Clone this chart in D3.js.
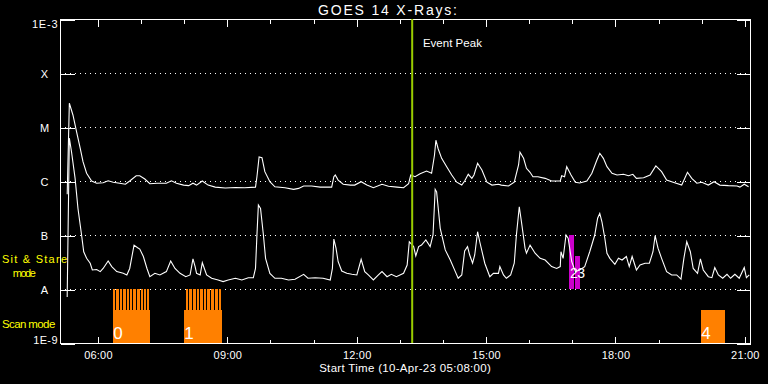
<!DOCTYPE html>
<html><head><meta charset="utf-8">
<script src="https://cdn.jsdelivr.net/npm/d3@7"></script>
<style>html,body{margin:0;padding:0;background:#000;}svg{display:block}</style>
</head><body><svg id="c" width="768" height="384"></svg>
<script>
// ---------------- DATA ----------------
const DAY = "2023-04-10";
const startTime = "05:08", endTime = "21:08";
const chartTitle = "GOES 14 X-Rays:";
const xTitle = "Start Time (10-Apr-23 05:08:00)";
const yTickValues = [1e-9, 1e-8, 1e-7, 1e-6, 1e-5, 1e-4, 1e-3];
const yTickLabels = ["1E-9", "A", "B", "C", "M", "X", "1E-3"];

// GOES long channel (1-8 A), W/m^2
const longTimes = ["05:18","05:21","05:26","05:31","05:36","05:40","05:45","05:52","05:59","06:08",
"06:15","06:22","06:31","06:39","06:45","06:54","06:59","07:06","07:13","07:23",
"07:36","07:43","07:50","08:00","08:07","08:13","08:18","08:26","08:34","08:44",
"08:58","09:12","09:25","09:40","09:42","09:45","09:49","09:53","10:00","10:07",
"10:21","10:33","10:40","10:47","10:58","11:10","11:26","11:29","11:31","11:35",
"11:42","11:52","11:58","12:07","12:15","12:24","12:36","12:45","12:57","13:06",
"13:13","13:16","13:22","13:29","13:38","13:45","13:49","13:51","13:54","13:59",
"14:06","14:13","14:20","14:27","14:31","14:36","14:41","14:44","14:49","14:55",
"15:02","15:09","15:18","15:22","15:32","15:40","15:46","15:48","15:53","15:57",
"16:02","16:06","16:13","16:23","16:32","16:44","16:46","16:50","16:53","16:59",
"17:05","17:11","17:21","17:28","17:35","17:39","17:44","17:49","17:56","18:03",
"18:12","18:19","18:25","18:30","18:40","18:49","18:57","19:05","19:12","19:21",
"19:33","19:41","19:47","19:54","20:01","20:10","20:18","20:26","20:38","20:50",
"20:54","21:00","21:06"];
const longFlux = [5.7e-7,2.75e-5,1.67e-5,8.2e-6,4.1e-6,2.28e-6,1.39e-6,1.0e-6,0.91e-6,0.93e-6,
1.01e-6,0.95e-6,0.91e-6,0.87e-6,1.0e-6,1.25e-6,1.25e-6,1.09e-6,0.89e-6,0.91e-6,
0.91e-6,1.01e-6,0.91e-6,0.84e-6,0.82e-6,0.91e-6,0.84e-6,1.0e-6,0.84e-6,0.77e-6,
0.74e-6,0.76e-6,0.75e-6,0.77e-6,1.2e-6,2.8e-6,2.7e-6,1.49e-6,0.97e-6,0.78e-6,
0.75e-6,0.70e-6,0.73e-6,0.81e-6,0.81e-6,0.77e-6,0.77e-6,1.2e-6,1.29e-6,1.04e-6,
0.87e-6,0.84e-6,0.84e-6,0.97e-6,0.84e-6,0.75e-6,0.87e-6,0.80e-6,0.77e-6,0.75e-6,
0.89e-6,1.29e-6,1.2e-6,1.36e-6,1.53e-6,1.39e-6,3.0e-6,5.7e-6,4.0e-6,2.63e-6,
1.84e-6,1.29e-6,0.95e-6,0.84e-6,1.0e-6,1.33e-6,1.12e-6,1.29e-6,2.13e-6,1.6e-6,
0.95e-6,0.84e-6,0.87e-6,0.84e-6,0.81e-6,0.95e-6,1.98e-6,3.4e-6,2.63e-6,1.72e-6,
1.45e-6,1.2e-6,1.2e-6,1.12e-6,1.0e-6,1.0e-6,1.25e-6,1.2e-6,1.84e-6,1.29e-6,
0.95e-6,0.92e-6,1.0e-6,1.39e-6,2.45e-6,3.26e-6,2.63e-6,1.84e-6,1.39e-6,1.29e-6,
1.33e-6,1.25e-6,1.33e-6,1.12e-6,1.15e-6,1.29e-6,1.9e-6,1.49e-6,1.04e-6,0.95e-6,
0.84e-6,1.45e-6,1.12e-6,0.91e-6,0.95e-6,0.84e-6,0.97e-6,0.84e-6,0.82e-6,0.81e-6,
0.77e-6,0.87e-6,0.78e-6];

// GOES short channel (0.5-4 A), W/m^2
const shortTimes = ["05:18","05:21","05:24","05:29","05:33","05:38","05:41","05:45","05:50","05:53",
"05:59","06:04","06:08","06:15","06:20","06:27","06:36","06:41","06:45","06:51",
"06:56","06:59","07:04","07:09","07:13","07:20","07:27","07:36","07:42","07:48",
"07:55","08:03","08:09","08:13","08:16","08:18","08:23","08:26","08:32","08:39",
"08:48","08:55","09:02","09:12","09:21","09:30","09:37","09:40","09:42","09:44",
"09:47","09:51","09:54","10:00","10:07","10:16","10:26","10:35","10:47","10:53",
"11:03","11:14","11:24","11:27","11:29","11:32","11:35","11:40","11:47","11:54",
"12:01","12:07","12:12","12:17","12:24","12:31","12:36","12:43","12:49","12:56",
"13:06","13:11","13:14","13:20","13:23","13:27","13:31","13:37","13:43","13:47",
"13:50","13:52","13:57","14:04","14:11","14:18","14:22","14:27","14:31","14:35",
"14:38","14:42","14:45","14:49","14:52","14:59","15:06","15:11","15:18","15:20",
"15:25","15:29","15:35","15:40","15:43","15:47","15:50","15:55","15:57","16:02",
"16:09","16:16","16:23","16:32","16:39","16:44","16:45","16:48","16:52","16:55",
"17:00","17:05","17:11","17:18","17:25","17:32","17:36","17:39","17:42","17:46",
"17:49","17:53","18:00","18:05","18:10","18:16","18:20","18:24","18:30","18:35",
"18:42","18:48","18:53","18:56","19:00","19:05","19:12","19:19","19:26","19:32",
"19:36","19:40","19:45","19:49","19:55","19:59","20:03","20:10","20:15","20:19",
"20:24","20:30","20:36","20:41","20:47","20:53","21:00","21:03","21:07"];
const shortFlux = [7.1e-9,6.2e-6,3.48e-6,1.12e-6,3.1e-7,1.0e-7,4.9e-8,3.7e-8,3.0e-8,2.25e-8,
2.3e-8,2.1e-8,2.4e-8,3.3e-8,2.6e-8,2.1e-8,1.95e-8,1.82e-8,2.4e-8,6.5e-8,
5.8e-8,5.5e-8,4.0e-8,2.4e-8,1.69e-8,1.95e-8,1.82e-8,2.1e-8,3.3e-8,2.4e-8,
1.95e-8,1.69e-8,1.82e-8,3.6e-8,2.6e-8,1.95e-8,1.82e-8,3.07e-8,1.82e-8,1.58e-8,
1.47e-8,1.37e-8,1.47e-8,1.58e-8,1.47e-8,1.62e-8,1.62e-8,2.4e-8,1.0e-7,3.6e-7,
3.1e-7,1.0e-7,3.7e-8,1.95e-8,1.58e-8,1.58e-8,1.47e-8,1.51e-8,1.87e-8,1.58e-8,
1.62e-8,1.58e-8,1.47e-8,2.4e-8,8.4e-8,5.7e-8,3.2e-8,2.15e-8,1.95e-8,1.87e-8,
1.82e-8,3.55e-8,2.1e-8,1.82e-8,1.47e-8,1.82e-8,2.1e-8,1.69e-8,1.87e-8,1.69e-8,
1.95e-8,2.78e-8,7.5e-8,6.1e-8,4.1e-8,6.1e-8,6.5e-8,8.1e-8,6.1e-8,1.0e-7,
7.0e-7,6.3e-7,1.33e-7,5.3e-8,3.44e-8,2.1e-8,1.58e-8,1.82e-8,5.05e-8,6.1e-8,
4.26e-8,3.0e-8,4.26e-8,1.15e-7,7.5e-8,3.0e-8,1.69e-8,1.95e-8,1.95e-8,2.6e-8,
1.82e-8,1.58e-8,1.82e-8,3.0e-8,1.0e-7,3.33e-7,1.76e-7,5.7e-8,4.6e-8,6.5e-8,
4.6e-8,3.7e-8,3.44e-8,2.6e-8,2.4e-8,2.6e-8,4.9e-8,3.7e-8,1.0e-7,8.7e-8,
3.2e-8,2.1e-8,2.25e-8,2.6e-8,4.9e-8,1.0e-7,2.04e-7,2.52e-7,1.76e-7,8.7e-8,
4.6e-8,3.7e-8,2.86e-8,3.7e-8,3.44e-8,4.0e-8,2.6e-8,4.0e-8,2.25e-8,2.78e-8,
3.0e-8,3.0e-8,4.9e-8,9.7e-8,5.7e-8,3.7e-8,2.1e-8,1.82e-8,1.82e-8,1.53e-8,
3.7e-8,7.5e-8,4.9e-8,2.4e-8,1.95e-8,3.6e-8,2.25e-8,1.69e-8,1.62e-8,2.5e-8,
1.82e-8,1.58e-8,1.87e-8,1.58e-8,1.87e-8,1.58e-8,2.5e-8,1.62e-8,1.82e-8];

const eventPeakTime = "13:18";
const eventPeakLabel = "Event Peak";

// Scan-mode observing blocks
const scanNames  = ["0", "1", "4"];
const scanStarts = ["06:22", "08:01", "20:00"];
const scanEnds   = ["07:13", "08:54", "20:33"];
const scanFrames = [
  ["06:22","06:26","06:31","06:36","06:41","06:45","06:50","06:55","07:00","07:05","07:09","07:13"],
  ["08:03","08:08","08:13","08:18","08:23","08:28","08:33","08:38","08:44","08:49","08:54"],
  []
];
// Sit & stare observations
const stareNames  = ["2", "3"];
const stareStarts = ["16:56", "17:04"];
const stareEnds   = ["17:03", "17:11"];
const stareLevels = [1.0, 0.61];

const modeRowNames = ["Sit & Stare", "Scan"];

// ---------------- DRAW ----------------
const parseT = d3.utcParse("%Y-%m-%d %H:%M");
const T = s => parseT(DAY + " " + s);
const FONT = "'Liberation Sans', Arial, sans-serif";
const svg = d3.select("#c");
svg.append("rect").attr("width", 768).attr("height", 384).attr("fill", "#000");

const L = 60, R = 750, TOP = 19, BOT = 343;
const x = d3.scaleUtc().domain([T(startTime), T(endTime)]).range([L, R]);
const y = d3.scaleLog().domain([1e-9, 1e-3]).range([BOT, TOP]);
// mode rows: sit&stare between A and B, scan between 1E-9 and A
const rowY = d3.scaleBand().domain(modeRowNames).range([y(1e-7), y(1e-9)]);

const g = svg.append("g").attr("shape-rendering", "crispEdges");

// dotted grid
g.selectAll("line.grid").data(yTickValues.slice(1, -1)).join("line")
  .attr("x1", L).attr("x2", R).attr("y1", d => Math.round(y(d)) + 0.5).attr("y2", d => Math.round(y(d)) + 0.5)
  .attr("stroke", "#fff").attr("stroke-dasharray", "1,4");

// y axes
const yLeft = g.append("g").attr("transform", `translate(${L + 0.5},0.5)`)
  .call(d3.axisLeft(y).tickValues(yTickValues).tickSize(-14).tickSizeOuter(0).tickPadding(3)
    .tickFormat((d, i) => yTickLabels[i]));
yLeft.select(".domain").remove();
yLeft.selectAll("line").attr("stroke", "#fff");
yLeft.selectAll("text").attr("fill", "#fff").attr("font-family", FONT).attr("font-size", 11)
  .each(function (d, i) {
    const t = d3.select(this);
    if (i === yTickLabels.length - 1) t.attr("dy", "0.73em").attr("textLength", 25.6);
    else if (i === 0) t.attr("dy", "0").attr("textLength", 24.3);
    else t.attr("text-anchor", "middle").attr("x", -16);
  });
const yRight = g.append("g").attr("transform", `translate(${R + 0.5},0.5)`)
  .call(d3.axisRight(y).tickValues(yTickValues).tickSize(-14).tickSizeOuter(0).tickFormat(""));
yRight.select(".domain").remove();
yRight.selectAll("line").attr("stroke", "#fff");

// x axes
function xAxis(gen, yPos) {
  const a = g.append("g").attr("transform", `translate(0.5,${yPos + 0.5})`).call(gen);
  a.select(".domain").remove();
  a.selectAll("line").attr("stroke", "#fff");
  a.selectAll("text").attr("fill", "#fff").attr("font-family", FONT).attr("font-size", 11)
    .attr("textLength", 28.4);
  return a;
}
xAxis(d3.axisBottom(x).ticks(d3.utcHour.every(1)).tickSize(-4).tickFormat(""), BOT);
xAxis(d3.axisBottom(x).ticks(d3.utcHour.every(3)).tickSize(-7).tickPadding(8).tickFormat(d3.utcFormat("%H:%M")), BOT);
xAxis(d3.axisTop(x).ticks(d3.utcHour.every(1)).tickSize(-4).tickFormat(""), TOP);
xAxis(d3.axisTop(x).ticks(d3.utcHour.every(3)).tickSize(-7).tickFormat(""), TOP);

// frame
g.append("rect").attr("x", L + 0.5).attr("y", TOP + 0.5).attr("width", R - L).attr("height", BOT - TOP)
  .attr("fill", "none").attr("stroke", "#fff");

// curves
const clip = svg.append("clipPath").attr("id", "pc").append("rect")
  .attr("x", L).attr("y", TOP).attr("width", R - L).attr("height", BOT - TOP);
const line = d3.line().x(d => x(d.t)).y(d => y(d.f));
const longData = longTimes.map((t, i) => ({ t: T(t), f: longFlux[i] }));
const shortData = shortTimes.map((t, i) => ({ t: T(t), f: shortFlux[i] }));
[longData, shortData].forEach(data => {
  svg.append("path").datum(data).attr("d", line).attr("fill", "none")
    .attr("stroke", "#fff").attr("stroke-width", 1.1).attr("clip-path", "url(#pc)");
});

// scan mode blocks
const ORANGE = "#ff8000";
const scanRow = rowY("Scan"), scanH = rowY.bandwidth();
scanFrames.forEach(fr => {
  for (let i = 0; i < fr.length - 1; i++) {
    g.append("rect").attr("x", Math.round(x(T(fr[i])))).attr("y", scanRow)
      .attr("width", Math.max(1, Math.round(x(T(fr[i + 1]))) - Math.round(x(T(fr[i]))) - 1))
      .attr("height", scanH).attr("fill", ORANGE);
  }
});
scanNames.forEach((n, i) => {
  const x0 = Math.round(x(T(scanStarts[i]))), x1 = Math.round(x(T(scanEnds[i])));
  g.append("rect").attr("x", x0).attr("y", scanRow + scanH * 0.39).attr("width", x1 - x0)
    .attr("height", scanH * 0.61).attr("fill", ORANGE);
});
scanNames.forEach((n, i) => {
  svg.append("text").attr("x", x(T(scanStarts[i])) ).attr("y", scanRow + scanH - 4)
    .attr("fill", "#fff").attr("font-family", FONT).attr("font-size", 17).text(n);
});

// sit & stare
const stareRow = rowY("Sit & Stare"), stareH = rowY.bandwidth();
stareNames.forEach((n, i) => {
  const x0 = Math.round(x(T(stareStarts[i]))), x1 = Math.round(x(T(stareEnds[i])));
  g.append("rect").attr("x", x0).attr("y", stareRow + stareH * (1 - stareLevels[i]))
    .attr("width", x1 - x0).attr("height", stareH * stareLevels[i]).attr("fill", "#cc00cc");
});
stareNames.forEach((n, i) => {
  svg.append("text").attr("x", x(T(stareStarts[i])) + 1 + i * 1.5).attr("y", stareRow + stareH - 11)
    .attr("fill", "#fff").attr("font-family", FONT).attr("font-size", 14).text(n);
});

// event peak
const ex = x(T(eventPeakTime));
svg.append("line").attr("x1", ex).attr("x2", ex).attr("y1", TOP).attr("y2", BOT)
  .attr("stroke", "#99cc00").attr("stroke-width", 2);
svg.append("text").attr("x", ex + 10.7).attr("y", 46.7).attr("fill", "#fff")
  .attr("font-family", FONT).attr("font-size", 11.5).attr("textLength", 59).text(eventPeakLabel);

// titles
svg.append("text").attr("x", 387.5).attr("y", 14.5).attr("text-anchor", "middle").attr("fill", "#fff")
  .attr("font-family", FONT).attr("font-size", 14).attr("textLength", 139).text(chartTitle);
svg.append("text").attr("x", 405).attr("y", 371.7).attr("text-anchor", "middle").attr("fill", "#fff")
  .attr("font-family", FONT).attr("font-size", 11.5).attr("textLength", 171.7).text(xTitle);

// mode labels (yellow)
const YEL = "#ffff00";
svg.append("text").attr("x", 2).attr("y", 263).attr("fill", YEL).attr("font-family", FONT)
  .attr("font-size", 11).attr("textLength", 65).text("Sit & Stare");
svg.append("text").attr("x", 24.3).attr("y", 276.5).attr("text-anchor", "middle").attr("fill", YEL)
  .attr("font-family", FONT).attr("font-size", 11).attr("textLength", 23.3).text("mode");
svg.append("text").attr("x", 2).attr("y", 328.3).attr("fill", YEL).attr("font-family", FONT)
  .attr("font-size", 11.5).attr("textLength", 53.3).text("Scan mode");
</script></body></html>
